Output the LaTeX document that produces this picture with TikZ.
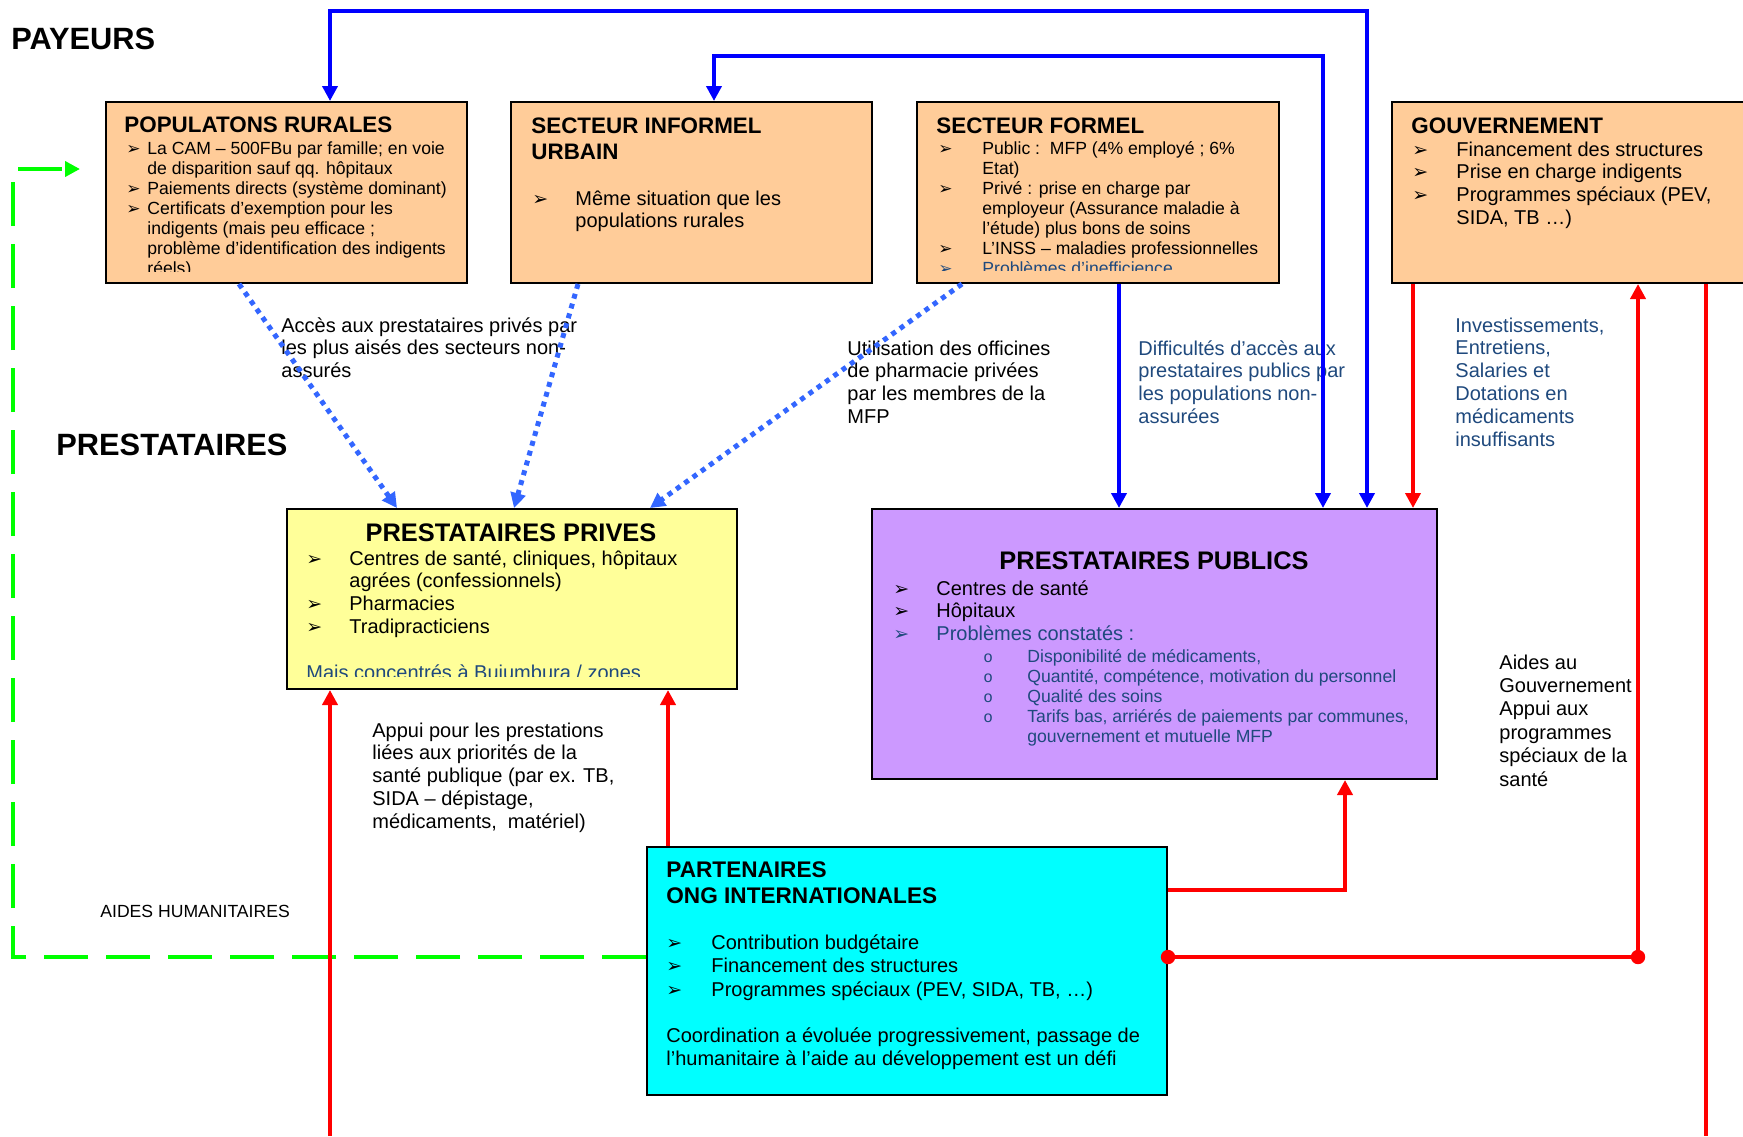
\documentclass[tikz,border=0pt]{standalone}
\usepackage{fontspec}
\setmainfont{Liberation Sans}
\newfontfamily\dejavu{DejaVu Sans}
\newfontfamily\courfnt{Liberation Mono}
\usepackage{tikz}
\usetikzlibrary{arrows.meta,calc}

\definecolor{payer}{RGB}{255,204,153}
\definecolor{privyellow}{RGB}{255,255,153}
\definecolor{publilac}{RGB}{204,153,255}
\definecolor{partcyan}{RGB}{0,255,255}
\definecolor{navytxt}{RGB}{31,73,125}
\definecolor{dotblue}{RGB}{51,102,255}
\definecolor{aidgreen}{RGB}{0,255,0}

\newcommand{\smallf}{\fontsize{8.8}{10}\selectfont}
\newcommand{\bodyf}{\fontsize{10}{11.4}\selectfont}
\newcommand{\arrowbul}[2][9.5pt]{\makebox[#2][l]{\dejavu\fontsize{#1}{#1}\selectfont ➢}}
\newcommand{\circbul}[1]{\makebox[#1][l]{\courfnt\fontsize{8}{8}\selectfont o}}

\begin{document}
\begin{tikzpicture}[x=0.5pt,y=0.5pt,yscale=-1,xscale=1,>={Triangle[length=7.5pt,width=7.5pt]},
  box/.style={draw=black, line width=1pt, anchor=north west, inner sep=0pt},
  ttl/.style={anchor=base west, inner sep=0pt, font=\bfseries\fontsize{11.2}{13}\selectfont},
  txt/.style={anchor=base west, inner sep=0pt, font=\bodyf},
  stxt/.style={anchor=base west, inner sep=0pt, font=\smallf},
  bluline/.style={draw=blue, line width=2.3pt},
  redline/.style={draw=red, line width=2.3pt},
  dotline/.style={draw=dotblue, line width=2.5pt, dash pattern=on 2.5pt off 2.6pt, ->},
  aidline/.style={draw=aidgreen, line width=2.3pt, dash pattern=on 22pt off 9pt, ->}]
\useasboundingbox (0,0) rectangle (1743,1136);

% Text Node
\node[anchor=base west, inner sep=0pt, font=\bfseries\fontsize{15.4}{17}\selectfont] (payeurs) at (11,49) {PAYEURS};
% Text Node
\node[anchor=base west, inner sep=0pt, font=\bfseries\fontsize{15.4}{17}\selectfont] (prestataires) at (56,455) {PRESTATAIRES};

%Shape: Rectangle
\node[box, fill=payer, minimum width=180.5pt, minimum height=90.5pt] (rural) at (105,101) {};
%Shape: Rectangle
\node[box, fill=payer, minimum width=180.5pt, minimum height=90.5pt] (informel) at (510,101) {};
%Shape: Rectangle
\node[box, fill=payer, minimum width=181pt, minimum height=90.5pt] (formel) at (916,101) {};
%Shape: Rectangle
\node[box, fill=payer, minimum width=200pt, minimum height=90.5pt] (gouv) at (1391,101) {};
%Shape: Rectangle
\node[box, fill=privyellow, minimum width=225pt, minimum height=90pt] (prives) at (286,508) {};
%Shape: Rectangle
\node[box, fill=publilac, minimum width=282.5pt, minimum height=135pt] (publics) at (871,508) {};
%Shape: Rectangle
\node[box, fill=partcyan, minimum width=260pt, minimum height=124pt] (partenaires) at (646,846) {};

% Text Node
\node[ttl] (ruralttl) at (124,132) {POPULATONS RURALES};
\begin{scope}
\clip (rural.north west) rectangle ($(rural.south east)+(0,-13)$);
% Text Node
\node[stxt] (ruralbody) at (126,154) {\begin{tabular}[t]{@{}l@{}}
\arrowbul[8.5pt]{10.5pt}La CAM – 500FBu par famille; en voie\\
\hspace*{10.5pt}de disparition sauf qq. hôpitaux\\
\arrowbul[8.5pt]{10.5pt}Paiements directs (système dominant)\\
\arrowbul[8.5pt]{10.5pt}Certificats d’exemption pour les\\
\hspace*{10.5pt}indigents (mais peu efficace ;\\
\hspace*{10.5pt}problème d’identification des indigents\\
\hspace*{10.5pt}réels)
\end{tabular}};
\end{scope}

% Text Node
\node[ttl] (informelttl) at (531,133) {\begin{tabular}[t]{@{}l@{}}SECTEUR INFORMEL\\URBAIN\end{tabular}};
% Text Node
\node[txt] (informelbody) at (532,205) {\begin{tabular}[t]{@{}l@{}}
\arrowbul{21.5pt}Même situation que les\\
\hspace*{21.5pt}populations rurales
\end{tabular}};

% Text Node
\node[ttl] (formelttl) at (936,133) {SECTEUR FORMEL};
\begin{scope}
\clip (formel.north west) rectangle ($(formel.south east)+(0,-14)$);
% Text Node
\node[stxt] (formelbody) at (938,154) {\begin{tabular}[t]{@{}l@{}}
\arrowbul[8.5pt]{22pt}Public :\ \ MFP (4\% employé ; 6\%\\
\hspace*{22pt}Etat)\\
\arrowbul[8.5pt]{22pt}Privé : prise en charge par\\
\hspace*{22pt}employeur (Assurance maladie à\\
\hspace*{22pt}l’étude) plus bons de soins\\
\arrowbul[8.5pt]{22pt}L’INSS – maladies professionnelles\\
\color{navytxt}\arrowbul[8.5pt]{22pt}Problèmes d’inefficience
\end{tabular}};
\end{scope}

% Text Node
\node[ttl] (gouvttl) at (1411,133) {GOUVERNEMENT};
% Text Node
\node[txt] (gouvbody) at (1412,156) {\begin{tabular}[t]{@{}l@{}}
\arrowbul{22pt}Financement des structures\\
\arrowbul{22pt}Prise en charge indigents\\
\arrowbul{22pt}Programmes spéciaux (PEV,\\
\hspace*{22pt}SIDA, TB …)
\end{tabular}};

% Text Node
\node[ttl, anchor=base, font=\bfseries\fontsize{12.7}{14}\selectfont] (privesttl) at (511,541) {PRESTATAIRES PRIVES};
\begin{scope}
\clip (prives.north west) rectangle ($(prives.south east)+(0,-14)$);
% Text Node
\node[txt] (privesbody) at (306,565) {\begin{tabular}[t]{@{}l@{}}
\arrowbul{21.5pt}Centres de santé, cliniques, hôpitaux\\
\hspace*{21.5pt}agrées (confessionnels)\\
\arrowbul{21.5pt}Pharmacies\\
\arrowbul{21.5pt}Tradipracticiens\\
\\
\color{navytxt}Mais concentrés à Bujumbura / zones
\end{tabular}};
\end{scope}

% Text Node
\node[ttl, anchor=base, font=\bfseries\fontsize{12.7}{14}\selectfont] (publicsttl) at (1154,569) {PRESTATAIRES PUBLICS};
% Text Node
\node[txt] (publicsbody) at (893,595) {\begin{tabular}[t]{@{}l@{}}
\arrowbul{21.5pt}Centres de santé\\
\arrowbul{21.5pt}Hôpitaux\\
\color{navytxt}\arrowbul{21.5pt}Problèmes constatés :
\end{tabular}};
% Text Node
\node[stxt, text=navytxt] (publicssub) at (983,662) {\begin{tabular}[t]{@{}l@{}}
\circbul{22pt}Disponibilité de médicaments,\\
\circbul{22pt}Quantité, compétence, motivation du personnel\\
\circbul{22pt}Qualité des soins\\
\circbul{22pt}Tarifs bas, arriérés de paiements par communes,\\
\hspace*{22pt}gouvernement et mutuelle MFP
\end{tabular}};

% Text Node
\node[ttl, font=\bfseries\fontsize{11.3}{13}\selectfont] (partttl) at (666,877) {\begin{tabular}[t]{@{}l@{}}PARTENAIRES\\ONG INTERNATIONALES\end{tabular}};
% Text Node
\node[txt, font=\fontsize{10}{11.9}\selectfont] (partbody) at (666,949) {\begin{tabular}[t]{@{}l@{}}
\arrowbul{22.5pt}Contribution budgétaire\\
\arrowbul{22.5pt}Financement des structures\\
\arrowbul{22.5pt}Programmes spéciaux (PEV, SIDA, TB, …)
\end{tabular}};
% Text Node
\node[txt, font=\fontsize{10}{11.7}\selectfont] (partcoord) at (666,1042) {\begin{tabular}[t]{@{}l@{}}
Coordination a évoluée progressivement, passage de\\
l’humanitaire à l’aide au développement est un défi
\end{tabular}};

% Text Node
\node[txt] (acces) at (281,332) {\begin{tabular}[t]{@{}l@{}}
Accès aux prestataires privés par\\
les plus aisés des secteurs non-\\
assurés
\end{tabular}};
% Text Node
\node[txt] (officines) at (847,355) {\begin{tabular}[t]{@{}l@{}}
Utilisation des officines\\
de pharmacie privées\\
par les membres de la\\
MFP
\end{tabular}};
% Text Node
\node[txt, text=navytxt] (difficultes) at (1138,355) {\begin{tabular}[t]{@{}l@{}}
Difficultés d’accès aux\\
prestataires publics par\\
les populations non-\\
assurées
\end{tabular}};
% Text Node
\node[txt, text=navytxt] (investis) at (1455,332) {\begin{tabular}[t]{@{}l@{}}
Investissements,\\
Entretiens,\\
Salaries et\\
Dotations en\\
médicaments\\
insuffisants
\end{tabular}};
% Text Node
\node[txt] (appui) at (372,737) {\begin{tabular}[t]{@{}l@{}}
Appui pour les prestations\\
liées aux priorités de la\\
santé publique (par ex. TB,\\
SIDA – dépistage,\\
médicaments,\ \ matériel)
\end{tabular}};
% Text Node
\node[txt, font=\fontsize{10}{11.7}\selectfont] (aidesgouv) at (1499,669) {\begin{tabular}[t]{@{}l@{}}
Aides au\\
Gouvernement\\
Appui aux\\
programmes\\
spéciaux de la\\
santé
\end{tabular}};
% Text Node
\node[stxt] (aideshum) at (100,917) {AIDES HUMANITAIRES};

% Points
\coordinate (top1) at (0,11);
\coordinate (top2) at (0,56);
\coordinate (bot) at (0,1136);
\coordinate (gcorner) at (13,169);
\coordinate (gtip) at (80,169);
\coordinate (r1) at ($(rural.north west)+(225,0)$);
\coordinate (p1) at ($(publics.north west)+(496,0)$);
\coordinate (i2) at ($(informel.north west)+(204,0)$);
\coordinate (p2) at ($(publics.north west)+(452,0)$);
\coordinate (f3) at ($(formel.south west)+(203,0)$);
\coordinate (pv1) at ($(prives.south west)+(44,0)$);
\coordinate (pa2) at ($(partenaires.north west)+(22,0)$);
\coordinate (pa3) at ($(partenaires.north east)+(0,44)$);
\coordinate (pb3) at ($(publics.south west)+(474,0)$);
\coordinate (pa4) at ($(partenaires.north east)+(0,111)$);
\coordinate (g4) at ($(gouv.south west)+(247,0)$);
\coordinate (g5) at ($(gouv.south west)+(22,0)$);
\coordinate (g6) at ($(gouv.south west)+(315,0)$);
\coordinate (pg) at ($(partenaires.north west)+(0,111)$);

%Dashed Lines
\draw[aidline] (pg) -| (gcorner) -- (gtip);

%Dotted Lines
\draw[dotline] ($(rural.south west)+(134,0)$) -- ($(prives.north west)+(111,0)$);
\draw[dotline] ($(informel.south west)+(68,0)$) -- ($(prives.north west)+(228,0)$);
\draw[dotline] ($(formel.south west)+(46,0)$) -- ($(prives.north west)+(364,0)$);

%Straight Lines
\draw[redline,->] (pv1 |- bot) -- (pv1);
\draw[redline,->] (pa2) -- (pa2 |- prives.south);
\draw[redline,->] (pa3) -| (pb3);
\draw[redline,->] (pa4) -| (g4);
\draw[redline,->] (g5) -- (g5 |- publics.north);
\draw[redline] (g6) -- (g6 |- bot);
\fill[red] (pa4) circle (3.6pt);
\fill[red] (pa4 -| g4) circle (3.6pt);

%Straight Lines
\draw[bluline,<->] (r1) -- (r1 |- top1) -- (p1 |- top1) -- (p1);
\draw[bluline,<->] (i2) -- (i2 |- top2) -- (p2 |- top2) -- (p2);
\draw[bluline,->] (f3) -- (f3 |- publics.north);

\end{tikzpicture}
\end{document}
